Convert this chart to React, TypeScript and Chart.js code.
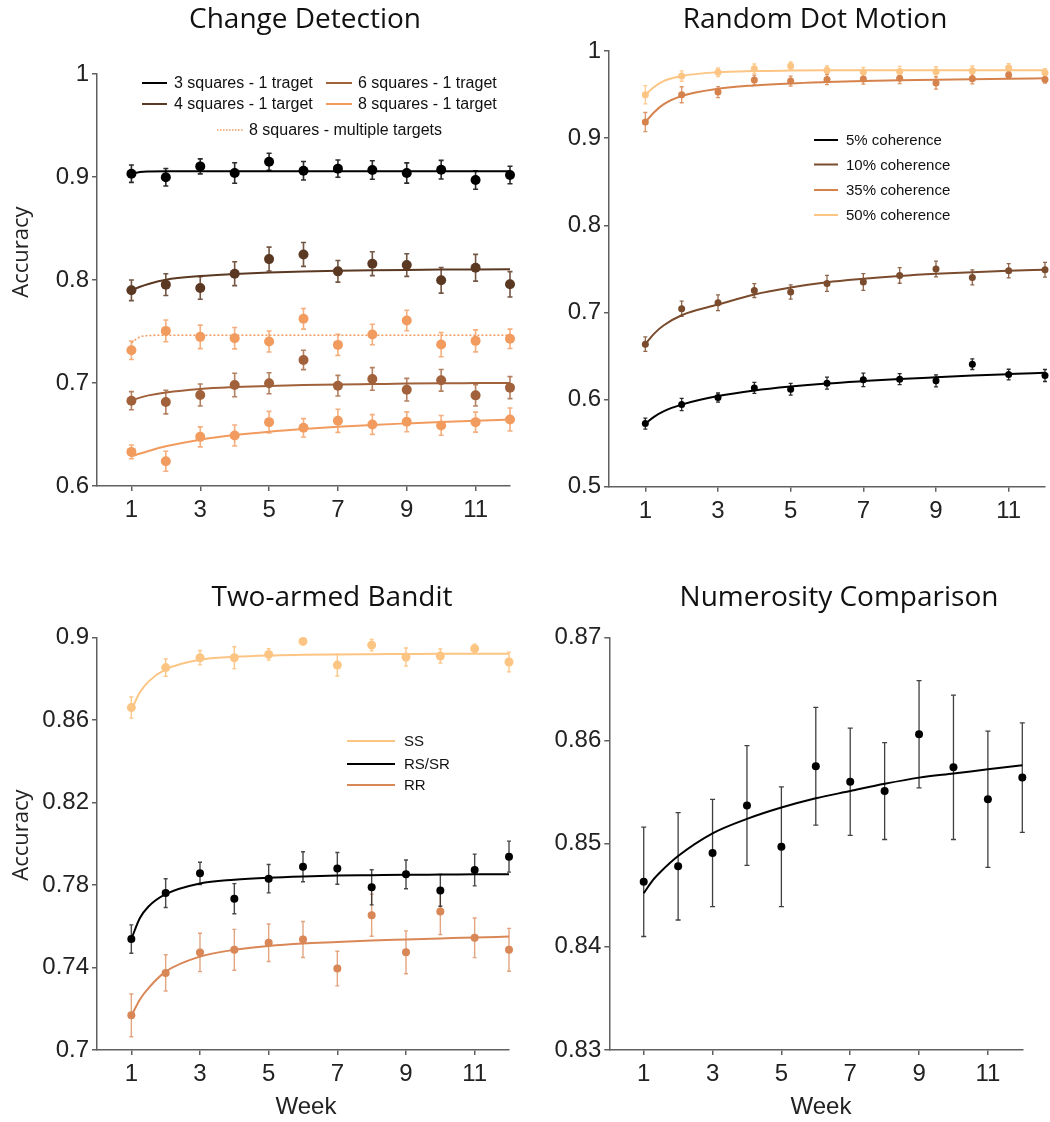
import React, { useEffect, useRef } from "react";
import { Chart, registerables } from "chart.js";

Chart.register(...registerables);

// ---- shared axes ----
const WEEKS = [1, 2, 3, 4, 5, 6, 7, 8, 9, 10, 11, 12];
const FIT_WEEKS = [1, 1.25, 1.5, 2, 3, 4, 5, 6, 7, 8, 9, 10, 11, 12];
const WEEK_TICKS = [1, 3, 5, 7, 9, 11];

// ---- Change Detection ----
const CD_Y_TICKS = [0.6, 0.7, 0.8, 0.9, 1];
const CD_Y_LABELS = ["0.6", "0.7", "0.8", "0.9", "1"];
const CD_LABELS = [
  "3 squares - 1 traget",
  "4 squares - 1 target",
  "6 squares - 1 traget",
  "8 squares - 1 target",
  "8 squares - multiple targets",
];
const CD_3SQ = [0.9032, 0.8997, 0.9103, 0.9039, 0.9148, 0.9061, 0.9081, 0.9068, 0.9039, 0.9071, 0.8971, 0.9019];
const CD_3SQ_ERR = [0.0084, 0.0085, 0.0073, 0.01, 0.0082, 0.009, 0.0084, 0.009, 0.0098, 0.009, 0.009, 0.0085];
const CD_3SQ_FIT = [0.9032, 0.9048, 0.9053, 0.9055, 0.9055, 0.9055, 0.9055, 0.9055, 0.9055, 0.9055, 0.9055, 0.9055, 0.9055, 0.9055];
const CD_4SQ = [0.79, 0.7955, 0.7923, 0.8061, 0.8203, 0.8248, 0.8084, 0.8158, 0.8145, 0.7997, 0.8119, 0.7958];
const CD_4SQ_ERR = [0.01, 0.0106, 0.011, 0.0116, 0.0116, 0.0116, 0.0105, 0.0116, 0.011, 0.0124, 0.013, 0.0123];
const CD_4SQ_FIT = [0.79, 0.7935, 0.7962, 0.8003, 0.8038, 0.8058, 0.8072, 0.8082, 0.8089, 0.8094, 0.8098, 0.8101, 0.8103, 0.8105];
const CD_6SQ = [0.6828, 0.6815, 0.6883, 0.698, 0.6997, 0.7224, 0.6974, 0.7039, 0.6935, 0.7026, 0.688, 0.6955];
const CD_6SQ_ERR = [0.0088, 0.0115, 0.0107, 0.0114, 0.0102, 0.0094, 0.01, 0.011, 0.011, 0.0105, 0.0104, 0.0107];
const CD_6SQ_FIT = [0.6828, 0.6858, 0.688, 0.6908, 0.6942, 0.696, 0.6972, 0.698, 0.6986, 0.699, 0.6994, 0.6997, 0.6999, 0.7001];
const CD_8SQ = [0.6331, 0.624, 0.6477, 0.649, 0.662, 0.6565, 0.6633, 0.6597, 0.6623, 0.6588, 0.662, 0.6646];
const CD_8SQ_ERR = [0.0067, 0.0097, 0.0097, 0.0102, 0.0105, 0.0089, 0.0112, 0.0096, 0.0097, 0.0096, 0.0097, 0.0112];
const CD_8SQ_FIT = [0.6286, 0.6315, 0.634, 0.6385, 0.645, 0.6494, 0.6527, 0.6553, 0.6575, 0.6593, 0.6608, 0.6622, 0.6634, 0.6645];
const CD_8MULTI = [0.7318, 0.7506, 0.7448, 0.7435, 0.7403, 0.7623, 0.737, 0.7471, 0.7607, 0.7373, 0.7409, 0.7429];
const CD_8MULTI_ERR = [0.009, 0.0106, 0.0114, 0.0104, 0.0102, 0.01, 0.0102, 0.01, 0.01, 0.0118, 0.0107, 0.0094];
const CD_8MULTI_FIT = [0.739, 0.7448, 0.746, 0.7464, 0.7464, 0.7464, 0.7464, 0.7464, 0.7464, 0.7464, 0.7464, 0.7464, 0.7464, 0.7464];

// ---- Random Dot Motion ----
const RDM_Y_TICKS = [0.5, 0.6, 0.7, 0.8, 0.9, 1];
const RDM_Y_LABELS = ["0.5", "0.6", "0.7", "0.8", "0.9", "1"];
const RDM_LABELS = ["5% coherence", "10% coherence", "35% coherence", "50% coherence"];
const RDM_5 = [0.5724, 0.5943, 0.6023, 0.6134, 0.6119, 0.6188, 0.6226, 0.6234, 0.6215, 0.6406, 0.6287, 0.6276];
const RDM_5_ERR = [0.0063, 0.007, 0.0052, 0.0063, 0.0067, 0.0069, 0.0077, 0.0063, 0.0069, 0.0061, 0.0061, 0.0069];
const RDM_5_FIT = [0.5724, 0.5805, 0.5865, 0.5942, 0.604, 0.6105, 0.615, 0.6185, 0.6212, 0.6236, 0.6256, 0.6275, 0.6292, 0.6308];
const RDM_10 = [0.6636, 0.7042, 0.7111, 0.7251, 0.7234, 0.7333, 0.7349, 0.7425, 0.7498, 0.7402, 0.7479, 0.749];
const RDM_10_ERR = [0.0084, 0.0088, 0.009, 0.008, 0.0082, 0.0092, 0.0096, 0.009, 0.009, 0.0086, 0.0082, 0.0084];
const RDM_10_FIT = [0.6636, 0.676, 0.685, 0.6968, 0.709, 0.7205, 0.7285, 0.7345, 0.7385, 0.7418, 0.7443, 0.7462, 0.7477, 0.749];
const RDM_35 = [0.9184, 0.9498, 0.9529, 0.9667, 0.9655, 0.9674, 0.9678, 0.9686, 0.9632, 0.9682, 0.9724, 0.9674];
const RDM_35_ERR = [0.011, 0.0092, 0.0063, 0.0057, 0.0057, 0.006, 0.0057, 0.006, 0.007, 0.006, 0.0036, 0.0042];
const RDM_35_FIT = [0.9184, 0.93, 0.9387, 0.9483, 0.9567, 0.9605, 0.9628, 0.9643, 0.9655, 0.9664, 0.9671, 0.9677, 0.9682, 0.9686];
const RDM_50 = [0.9498, 0.9713, 0.9755, 0.9797, 0.9828, 0.9778, 0.9759, 0.9766, 0.9762, 0.9774, 0.9808, 0.9751];
const RDM_50_ERR = [0.0105, 0.006, 0.005, 0.0054, 0.0046, 0.005, 0.0054, 0.0057, 0.0057, 0.0054, 0.0048, 0.0046];
const RDM_50_FIT = [0.9498, 0.959, 0.9655, 0.9713, 0.9757, 0.977, 0.9775, 0.9778, 0.978, 0.978, 0.978, 0.978, 0.978, 0.978];

// ---- Two-armed Bandit ----
const TAB_Y_TICKS = [0.7, 0.74, 0.78, 0.82, 0.86, 0.9];
const TAB_Y_LABELS = ["0.7", "0.74", "0.78", "0.82", "0.86", "0.9"];
const TAB_LABELS = ["SS", "RS/SR", "RR"];
const TAB_SS = [0.8661, 0.8855, 0.8903, 0.8903, 0.8919, 0.8982, 0.8867, 0.8964, 0.8906, 0.8911, 0.8947, 0.8882];
const TAB_SS_ERR = [0.0051, 0.0042, 0.0035, 0.0053, 0.0028, 0.001, 0.0053, 0.0028, 0.0044, 0.0034, 0.0022, 0.0048];
const TAB_SS_FIT = [0.8649, 0.8735, 0.8787, 0.8846, 0.8893, 0.8907, 0.8914, 0.8917, 0.8919, 0.892, 0.8921, 0.8922, 0.8922, 0.8922];
const TAB_RSSR = [0.7538, 0.7761, 0.7857, 0.7734, 0.7831, 0.7889, 0.7881, 0.7789, 0.7852, 0.7774, 0.7873, 0.7938];
const TAB_RSSR_ERR = [0.0069, 0.007, 0.0054, 0.0073, 0.0069, 0.0073, 0.0077, 0.0085, 0.007, 0.0077, 0.0077, 0.0075];
const TAB_RSSR_FIT = [0.7538, 0.764, 0.7696, 0.7756, 0.7808, 0.7826, 0.7836, 0.7842, 0.7846, 0.7848, 0.785, 0.7851, 0.7852, 0.7853];
const TAB_RR = [0.7168, 0.7374, 0.7473, 0.7486, 0.752, 0.7536, 0.7395, 0.7654, 0.7474, 0.7672, 0.7544, 0.7486];
const TAB_RR_ERR = [0.0104, 0.0088, 0.0093, 0.0099, 0.0091, 0.0087, 0.0084, 0.0102, 0.0104, 0.0112, 0.0096, 0.0104];
const TAB_RR_FIT = [0.7165, 0.7245, 0.73, 0.738, 0.7453, 0.7486, 0.7505, 0.7517, 0.7524, 0.7531, 0.7536, 0.7541, 0.7546, 0.755];

// ---- Numerosity Comparison ----
const NUM_Y_TICKS = [0.83, 0.84, 0.85, 0.86, 0.87];
const NUM_Y_LABELS = ["0.83", "0.84", "0.85", "0.86", "0.87"];
const NUM_VALUES = [0.8463, 0.8478, 0.8491, 0.8537, 0.8497, 0.8575, 0.856, 0.8551, 0.8606, 0.8574, 0.8543, 0.8564];
const NUM_ERR = [0.0053, 0.0052, 0.0052, 0.0058, 0.0058, 0.0057, 0.0052, 0.0047, 0.0052, 0.007, 0.0066, 0.0053];
const NUM_FIT = [0.8452, 0.8464, 0.8473, 0.8488, 0.851, 0.8524, 0.8535, 0.8544, 0.8551, 0.8558, 0.8564, 0.8568, 0.8572, 0.8576];

// ---- palette ----
const BLACK = "#000000";
const DARK_BROWN = "#5a3822";
const MID_BROWN = "#a0613b";
const LIGHT_ORANGE = "#f29b5f";
const RDM_BROWN = "#7b4b2d";
const RDM_ORANGE = "#d6824c";
const PALE = "#fdc584";
const RR_ORANGE = "#d98756";

const TICK_FONT = "'Liberation Sans', Arial, sans-serif";
const TITLE_FONT = "'Open Sans', 'Liberation Sans', sans-serif";

type Series = {
  label: string;
  color: string;
  errColor: string;
  values: number[];
  err: number[];
  fit: number[];
  dotted?: boolean;
  radius?: number;
};

type LegendItem = { label: string; color: string; dotted?: boolean; x0: number; x1: number; tx: number; y: number };

type Panel = {
  key: string;
  left: number;
  top: number;
  width: number;
  height: number;
  plot: { x0: number; x1: number; y0: number; y1: number };
  yMin: number;
  yMax: number;
  yTicks: number[];
  yLabels: string[];
  title: string;
  titlePos: [number, number];
  yTitlePos?: [number, number];
  xTitlePos?: [number, number];
  pointRadius: number;
  capHalf: number;
  errWidth: number;
  legendFont: number;
  legend: LegendItem[];
  series: Series[];
};

const PANELS: Panel[] = [
  {
    key: "cd",
    left: 0,
    top: 0,
    width: 525,
    height: 545,
    plot: { x0: 97, x1: 510, y0: 74, y1: 486 },
    yMin: 0.6,
    yMax: 1,
    yTicks: CD_Y_TICKS,
    yLabels: CD_Y_LABELS,
    title: "Change Detection",
    titlePos: [305, 20],
    yTitlePos: [22, 252],
    pointRadius: 5,
    capHalf: 2.5,
    errWidth: 1.6,
    legendFont: 16,
    legend: [
      { label: CD_LABELS[0], color: BLACK, x0: 142, x1: 167, tx: 174, y: 83 },
      { label: CD_LABELS[2], color: MID_BROWN, x0: 326, x1: 352, tx: 358, y: 83 },
      { label: CD_LABELS[1], color: DARK_BROWN, x0: 142, x1: 167, tx: 174, y: 104 },
      { label: CD_LABELS[3], color: LIGHT_ORANGE, x0: 326, x1: 352, tx: 358, y: 104 },
      { label: CD_LABELS[4], color: LIGHT_ORANGE, dotted: true, x0: 217, x1: 243, tx: 249, y: 130 },
    ],
    series: [
      { label: CD_LABELS[4], color: LIGHT_ORANGE, errColor: "rgba(242,155,95,0.8)", values: CD_8MULTI, err: CD_8MULTI_ERR, fit: CD_8MULTI_FIT, dotted: true },
      { label: CD_LABELS[3], color: LIGHT_ORANGE, errColor: "rgba(242,155,95,0.8)", values: CD_8SQ, err: CD_8SQ_ERR, fit: CD_8SQ_FIT },
      { label: CD_LABELS[2], color: MID_BROWN, errColor: "rgba(160,97,59,0.8)", values: CD_6SQ, err: CD_6SQ_ERR, fit: CD_6SQ_FIT },
      { label: CD_LABELS[1], color: DARK_BROWN, errColor: "rgba(90,56,34,0.85)", values: CD_4SQ, err: CD_4SQ_ERR, fit: CD_4SQ_FIT },
      { label: CD_LABELS[0], color: BLACK, errColor: "rgba(20,20,20,0.9)", values: CD_3SQ, err: CD_3SQ_ERR, fit: CD_3SQ_FIT },
    ],
  },
  {
    key: "rdm",
    left: 525,
    top: 0,
    width: 525,
    height: 545,
    plot: { x0: 609, x1: 1045, y0: 51, y1: 486.7 },
    yMin: 0.5,
    yMax: 1,
    yTicks: RDM_Y_TICKS,
    yLabels: RDM_Y_LABELS,
    title: "Random Dot Motion",
    titlePos: [815, 20],
    pointRadius: 3.5,
    capHalf: 2,
    errWidth: 1.3,
    legendFont: 15,
    legend: [
      { label: RDM_LABELS[0], color: BLACK, x0: 814, x1: 838, tx: 846, y: 140 },
      { label: RDM_LABELS[1], color: RDM_BROWN, x0: 814, x1: 838, tx: 846, y: 164.5 },
      { label: RDM_LABELS[2], color: RDM_ORANGE, x0: 814, x1: 838, tx: 846, y: 190 },
      { label: RDM_LABELS[3], color: PALE, x0: 814, x1: 838, tx: 846, y: 215 },
    ],
    series: [
      { label: RDM_LABELS[3], color: PALE, errColor: "rgba(253,197,132,0.9)", values: RDM_50, err: RDM_50_ERR, fit: RDM_50_FIT },
      { label: RDM_LABELS[2], color: RDM_ORANGE, errColor: "rgba(214,130,76,0.85)", values: RDM_35, err: RDM_35_ERR, fit: RDM_35_FIT },
      { label: RDM_LABELS[1], color: RDM_BROWN, errColor: "rgba(123,75,45,0.85)", values: RDM_10, err: RDM_10_ERR, fit: RDM_10_FIT },
      { label: RDM_LABELS[0], color: BLACK, errColor: "rgba(20,20,20,0.9)", values: RDM_5, err: RDM_5_ERR, fit: RDM_5_FIT },
    ],
  },
  {
    key: "tab",
    left: 0,
    top: 545,
    width: 525,
    height: 577,
    plot: { x0: 97, x1: 509, y0: 637.7, y1: 1050 },
    yMin: 0.7,
    yMax: 0.9,
    yTicks: TAB_Y_TICKS,
    yLabels: TAB_Y_LABELS,
    title: "Two-armed Bandit",
    titlePos: [332, 598],
    yTitlePos: [22, 835],
    xTitlePos: [306, 1107],
    pointRadius: 4,
    capHalf: 2,
    errWidth: 1.4,
    legendFont: 15,
    legend: [
      { label: TAB_LABELS[0], color: PALE, x0: 347, x1: 395, tx: 404, y: 741 },
      { label: TAB_LABELS[1], color: BLACK, x0: 347, x1: 395, tx: 404, y: 764 },
      { label: TAB_LABELS[2], color: RR_ORANGE, x0: 347, x1: 395, tx: 404, y: 785 },
    ],
    series: [
      { label: TAB_LABELS[0], color: PALE, errColor: "rgba(253,197,132,0.95)", values: TAB_SS, err: TAB_SS_ERR, fit: TAB_SS_FIT, radius: 4.5 },
      { label: TAB_LABELS[2], color: RR_ORANGE, errColor: "rgba(217,135,86,0.75)", values: TAB_RR, err: TAB_RR_ERR, fit: TAB_RR_FIT },
      { label: TAB_LABELS[1], color: BLACK, errColor: "rgba(40,40,40,0.85)", values: TAB_RSSR, err: TAB_RSSR_ERR, fit: TAB_RSSR_FIT },
    ],
  },
  {
    key: "num",
    left: 525,
    top: 545,
    width: 525,
    height: 577,
    plot: { x0: 609.3, x1: 1022.3, y0: 637.3, y1: 1050 },
    yMin: 0.83,
    yMax: 0.87,
    yTicks: NUM_Y_TICKS,
    yLabels: NUM_Y_LABELS,
    title: "Numerosity Comparison",
    titlePos: [839, 598],
    xTitlePos: [821, 1107],
    pointRadius: 4,
    capHalf: 2.5,
    errWidth: 1.3,
    legendFont: 15,
    legend: [],
    series: [
      { label: "Accuracy", color: BLACK, errColor: "rgba(30,30,30,0.85)", values: NUM_VALUES, err: NUM_ERR, fit: NUM_FIT },
    ],
  },
];

// Vertical error bars with small caps, drawn underneath the markers.
const errorBarPlugin = {
  id: "errorBars",
  beforeDatasetsDraw(chart: any) {
    const ctx = chart.ctx;
    const yScale = chart.scales.y;
    chart.data.datasets.forEach((ds: any, i: number) => {
      if (!ds.errors) return;
      const meta = chart.getDatasetMeta(i);
      ctx.save();
      ctx.strokeStyle = ds.errColor;
      ctx.lineWidth = ds.errWidth;
      meta.data.forEach((el: any, j: number) => {
        const v = ds.data[j].y;
        const e = ds.errors[j];
        const x = el.x;
        const yTop = yScale.getPixelForValue(v + e);
        const yBot = yScale.getPixelForValue(v - e);
        ctx.beginPath();
        ctx.moveTo(x, yTop);
        ctx.lineTo(x, yBot);
        ctx.moveTo(x - ds.capHalf, yTop);
        ctx.lineTo(x + ds.capHalf, yTop);
        ctx.moveTo(x - ds.capHalf, yBot);
        ctx.lineTo(x + ds.capHalf, yBot);
        ctx.stroke();
      });
      ctx.restore();
    });
  },
};

// Titles, axis names and the hand-placed legends.
function makeOverlay(p: Panel) {
  return {
    id: "overlay",
    afterDraw(chart: any) {
      const ctx = chart.ctx;
      const ox = p.left;
      const oy = p.top;
      ctx.save();
      ctx.fillStyle = "#111";
      ctx.textAlign = "center";
      ctx.textBaseline = "middle";
      ctx.font = `28px ${TITLE_FONT}`;
      ctx.fillText(p.title, p.titlePos[0] - ox, p.titlePos[1] - oy);

      if (p.yTitlePos) {
        ctx.save();
        ctx.translate(p.yTitlePos[0] - ox, p.yTitlePos[1] - oy);
        ctx.rotate(-Math.PI / 2);
        ctx.font = `22px ${TITLE_FONT}`;
        ctx.fillStyle = "#222";
        ctx.fillText("Accuracy", 0, 0);
        ctx.restore();
      }
      if (p.xTitlePos) {
        ctx.font = `24px ${TICK_FONT}`;
        ctx.fillStyle = "#222";
        ctx.fillText("Week", p.xTitlePos[0] - ox, p.xTitlePos[1] - oy);
      }

      ctx.textAlign = "left";
      ctx.font = `${p.legendFont}px ${TICK_FONT}`;
      p.legend.forEach((item) => {
        ctx.save();
        ctx.strokeStyle = item.color;
        ctx.lineWidth = item.dotted ? 1.4 : 2;
        if (item.dotted) ctx.setLineDash([1.5, 1.5]);
        ctx.beginPath();
        ctx.moveTo(item.x0 - ox, item.y - oy);
        ctx.lineTo(item.x1 - ox, item.y - oy);
        ctx.stroke();
        ctx.restore();
        ctx.fillStyle = "#111";
        ctx.fillText(item.label, item.tx - ox, item.y - oy + 1);
      });
      ctx.restore();
    },
  };
}

function buildConfig(p: Panel) {
  const datasets: any[] = [];
  p.series.forEach((s) => {
    datasets.push({
      type: "scatter",
      label: s.label + " fit",
      showLine: true,
      data: FIT_WEEKS.map((w, i) => ({ x: w, y: s.fit[i] })),
      borderColor: s.color,
      backgroundColor: s.color,
      borderWidth: s.dotted ? 1.6 : 2,
      borderDash: s.dotted ? [2, 2] : [],
      pointRadius: 0,
      cubicInterpolationMode: "monotone",
      fill: false,
      order: 2,
      clip: false,
    });
    datasets.push({
      type: "scatter",
      label: s.label,
      data: WEEKS.map((w, i) => ({ x: w, y: s.values[i] })),
      backgroundColor: s.color,
      borderColor: s.color,
      pointBorderWidth: 0,
      pointRadius: s.radius ?? p.pointRadius,
      pointHoverRadius: s.radius ?? p.pointRadius,
      errors: s.err,
      errColor: s.errColor,
      errWidth: p.errWidth,
      capHalf: p.capHalf,
      order: 1,
      clip: false,
    });
  });

  const leftW = p.plot.x0 - p.left;
  const padRight = p.left + p.width - p.plot.x1;
  const padTop = p.plot.y0 - p.top;
  const bottomH = p.top + p.height - p.plot.y1;
  const axisColor = "#606060";

  return {
    type: "scatter",
    data: { datasets },
    options: {
      responsive: true,
      maintainAspectRatio: false,
      animation: false,
      events: [],
      layout: { padding: { top: padTop, right: padRight, left: 0, bottom: 0 } },
      plugins: {
        legend: { display: false },
        title: { display: false },
        tooltip: { enabled: false },
      },
      scales: {
        x: {
          type: "linear",
          min: 0,
          max: 12,
          afterBuildTicks: (scale: any) => {
            scale.ticks = WEEK_TICKS.map((v) => ({ value: v }));
          },
          afterFit: (scale: any) => {
            scale.height = bottomH;
          },
          ticks: {
            autoSkip: false,
            maxRotation: 0,
            padding: 5,
            color: "#222",
            font: { family: TICK_FONT, size: 24 },
            callback: (v: any) => String(v),
          },
          grid: { drawOnChartArea: false, drawTicks: true, tickLength: 5, color: axisColor, lineWidth: 1.5 },
          border: { display: true, color: axisColor, width: 1.5 },
        },
        y: {
          type: "linear",
          min: p.yMin,
          max: p.yMax,
          afterBuildTicks: (scale: any) => {
            scale.ticks = p.yTicks.map((v) => ({ value: v }));
          },
          afterFit: (scale: any) => {
            scale.width = leftW;
          },
          ticks: {
            autoSkip: false,
            padding: 3,
            color: "#222",
            font: { family: TICK_FONT, size: 24 },
            callback: (_v: any, i: number) => p.yLabels[i],
          },
          grid: { drawOnChartArea: false, drawTicks: true, tickLength: 5, color: axisColor, lineWidth: 1.5 },
          border: { display: true, color: axisColor, width: 1.5 },
        },
      },
    },
    plugins: [errorBarPlugin, makeOverlay(p)],
  };
}

function PanelChart({ p }: { p: Panel }) {
  const ref = useRef<HTMLCanvasElement | null>(null);
  useEffect(() => {
    if (!ref.current) return;
    const chart = new Chart(ref.current, buildConfig(p) as any);
    return () => chart.destroy();
  }, [p]);
  return (
    <div style={{ position: "absolute", left: p.left, top: p.top, width: p.width, height: p.height }}>
      <canvas ref={ref} />
    </div>
  );
}

export default function App() {
  return (
    <div style={{ position: "absolute", left: 0, top: 0, width: 1050, height: 1122, background: "#fff" }}>
      {PANELS.map((p) => (
        <PanelChart key={p.key} p={p} />
      ))}
    </div>
  );
}
